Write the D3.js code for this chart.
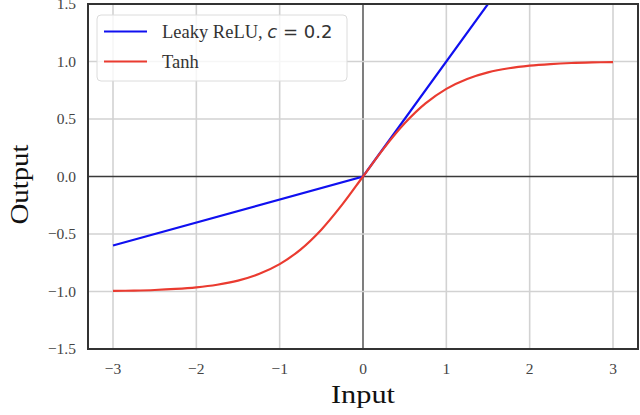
<!DOCTYPE html>
<html><head><meta charset="utf-8">
<script src="https://cdn.jsdelivr.net/npm/d3@7"></script>
<style>body{margin:0;background:#fff}svg{display:block}</style>
</head><body>
<svg id="c" width="640" height="415"></svg>
<script>
const xTicks = [-3,-2,-1,0,1,2,3];
const yTicks = [-1.5,-1.0,-0.5,0.0,0.5,1.0,1.5];
const leakyX = [-3, 0, 3];
const leakyY = [-0.6, 0, 3];
const tanhX = [-3,-2.75,-2.5,-2.25,-2,-1.75,-1.5,-1.25,-1,-0.75,-0.5,-0.25,0,0.25,0.5,0.75,1,1.25,1.5,1.75,2,2.25,2.5,2.75,3];
const tanhY = [-0.995,-0.992,-0.987,-0.978,-0.964,-0.941,-0.905,-0.848,-0.762,-0.635,-0.462,-0.245,0,0.245,0.462,0.635,0.762,0.848,0.905,0.941,0.964,0.978,0.987,0.992,0.995];
const seriesNames = ["Leaky ReLU, ", "Tanh"];

const svg = d3.select("#c");
const L=88, R=638, T=4, B=349;
const x = d3.scaleLinear().domain([-3.3,3.3]).range([L,R]);
const y = d3.scaleLinear().domain([-1.5,1.5]).range([B,T]);

svg.append("defs").append("clipPath").attr("id","clip")
  .append("rect").attr("x",L).attr("y",T).attr("width",R-L).attr("height",B-T);

const g = svg.append("g");
g.selectAll(".gx").data(xTicks).join("line")
  .attr("x1",d=>x(d)).attr("x2",d=>x(d)).attr("y1",T).attr("y2",B)
  .attr("stroke",d=>d===0?"#3a3a3a":"#d2d2d2").attr("stroke-width",d=>d===0?1.3:1.6);
g.selectAll(".gy").data(yTicks).join("line")
  .attr("y1",d=>y(d)).attr("y2",d=>y(d)).attr("x1",L).attr("x2",R)
  .attr("stroke",d=>d===0?"#3a3a3a":"#d2d2d2").attr("stroke-width",d=>d===0?1.3:1.6);

const line = d3.line().x(d=>x(d[0])).y(d=>y(d[1]));
const tline = d3.line().x(d=>x(d[0])).y(d=>y(d[1])).curve(d3.curveCatmullRom);
const pl = svg.append("g").attr("clip-path","url(#clip)");
pl.append("path").datum(leakyX.map((v,i)=>[v,leakyY[i]]))
  .attr("d",line).attr("fill","none").attr("stroke","#1010f0").attr("stroke-width",2.2);
pl.append("path").datum(tanhX.map((v,i)=>[v,tanhY[i]]))
  .attr("d",tline).attr("fill","none").attr("stroke","#ea3b30").attr("stroke-width",2.2);

svg.append("rect").attr("x",L).attr("y",T).attr("width",R-L).attr("height",B-T)
  .attr("fill","none").attr("stroke","#333").attr("stroke-width",2);

const fmtY = d=> (d<0?"\u2212":"") + Math.abs(d).toFixed(1);
const fmtX = d=> (d<0?"\u2212":"") + Math.abs(d);
svg.selectAll(".xt").data(xTicks).join("text")
  .attr("x",d=>x(d)).attr("y",374).attr("text-anchor","middle")
  .attr("font-family","Liberation Serif").attr("font-size",15.5).attr("fill","#444")
  .text(fmtX);
svg.selectAll(".yt").data(yTicks).join("text")
  .attr("x",76).attr("y",d=>y(d)+5).attr("text-anchor","end")
  .attr("font-family","Liberation Serif").attr("font-size",15.5).attr("fill","#444")
  .text(fmtY);

svg.append("text").attr("x",x(0)).attr("y",403).attr("text-anchor","middle")
  .attr("font-family","Liberation Serif").attr("font-size",25).attr("fill","#111")
  .attr("textLength",64).attr("lengthAdjust","spacingAndGlyphs").text("Input");
svg.append("text").attr("transform",`translate(28,${y(0)+8}) rotate(-90)`).attr("text-anchor","middle")
  .attr("font-family","Liberation Serif").attr("font-size",25).attr("fill","#111")
  .attr("textLength",80).attr("lengthAdjust","spacingAndGlyphs").text("Output");

const lg = svg.append("g");
lg.append("rect").attr("x",97).attr("y",15).attr("width",250).attr("height",66).attr("rx",4)
  .attr("fill","rgba(255,255,255,0.8)").attr("stroke","#dcdcdc").attr("stroke-width",1);
const colors=["#1010f0","#ea3b30"];
[31.5,61.5].forEach((yy,i)=>{
  lg.append("line").attr("x1",104).attr("x2",147).attr("y1",yy).attr("y2",yy)
    .attr("stroke",colors[i]).attr("stroke-width",2.2);
});
const t1 = lg.append("text").attr("x",162).attr("y",38).attr("font-family","Liberation Serif")
  .attr("font-size",18.5).attr("fill","#333");
t1.append("tspan").text(seriesNames[0]);
t1.append("tspan").attr("font-family","DejaVu Sans").attr("font-style","italic").attr("font-size",18).text("c");
t1.append("tspan").attr("font-family","DejaVu Sans").attr("font-size",18).text(" = 0.2");
lg.append("text").attr("x",162).attr("y",68).attr("font-family","Liberation Serif")
  .attr("font-size",18.5).attr("fill","#333").text(seriesNames[1]);
</script>
</body></html>
